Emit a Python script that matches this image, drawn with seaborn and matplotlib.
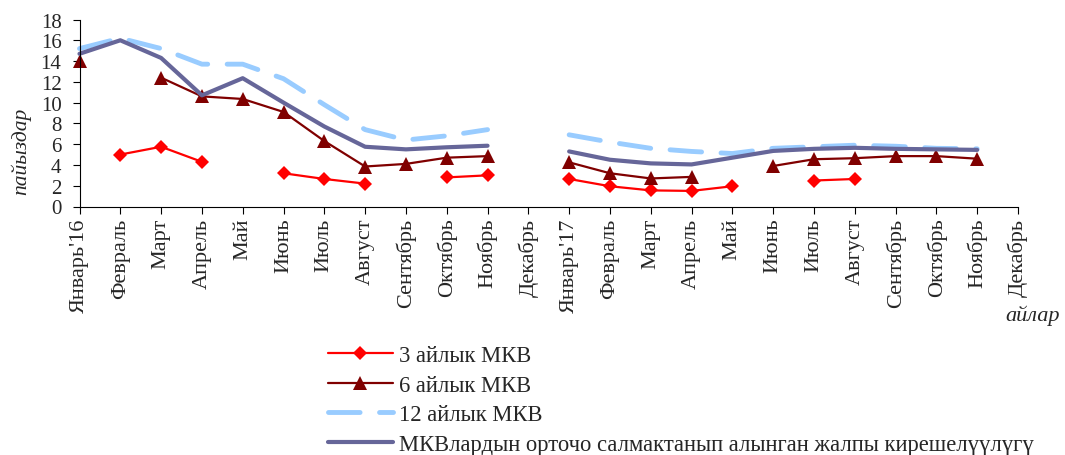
import numpy as np
import pandas as pd
import matplotlib
matplotlib.use("Agg")
import matplotlib.pyplot as plt
from matplotlib.lines import Line2D
import seaborn as sns

nan = np.nan

months = ["Январь'16", "Февраль", "Март", "Апрель", "Май", "Июнь", "Июль",
          "Август", "Сентябрь", "Октябрь", "Ноябрь", "Декабрь",
          "Январь'17", "Февраль", "Март", "Апрель", "Май", "Июнь", "Июль",
          "Август", "Сентябрь", "Октябрь", "Ноябрь", "Декабрь"]

mkv3 = [nan, 5.0, 5.75, 4.3, nan, 3.2, 2.65, 2.2, nan, 2.8, 3.0, nan,
        2.65, 1.95, 1.55, 1.5, 1.95, nan, 2.5, 2.65, nan, nan, nan, nan]
mkv6 = [14.0, nan, 12.4, 10.6, 10.35, 9.1, 6.3, 3.85, 4.1, 4.7, 4.85, nan,
        4.25, 3.2, 2.7, 2.85, nan, 3.9, 4.55, 4.65, 4.85, 4.85, 4.6, nan]
mkv12 = [15.2, 16.2, 15.2, 13.7, 13.7, 12.3, 9.8, 7.4, 6.4, 6.8, 7.4, nan,
         6.9, 6.2, 5.6, 5.3, 5.1, 5.6, 5.75, 5.9, 5.8, 5.6, 5.55, nan]
avg_yield = [14.7, 16.0, 14.3, 10.7, 12.35, 10.0, 7.7, 5.75, 5.5, 5.7, 5.85, nan,
             5.3, 4.5, 4.15, 4.05, 4.7, 5.35, 5.55, 5.65, 5.55, 5.5, 5.45, nan]

series_names = ["3 айлык МКВ", "6 айлык МКВ", "12 айлык МКВ",
                "МКВлардын орточо салмактанып алынган жалпы кирешелүүлүгү"]

styles = {
    series_names[0]: dict(color="#FF0000", linewidth=1.6, marker="D", markersize=7,
                          linestyle="-"),
    series_names[1]: dict(color="#800000", linewidth=1.6, marker="^", markersize=10,
                          linestyle="-"),
    series_names[2]: dict(color="#99CCFF", linewidth=3.5, marker=None, markersize=0,
                          linestyle=(0, (6.5, 4)), dash_capstyle="round"),
    series_names[3]: dict(color="#666699", linewidth=3.0, marker=None, markersize=0,
                          linestyle="-"),
}

pos = np.arange(len(months))
df = pd.DataFrame({"pos": pos})
for name, vals in zip(series_names, [mkv3, mkv6, mkv12, avg_yield]):
    df[name] = vals


def runs(values):
    # consecutive stretches without gaps
    out, cur = [], []
    for i, v in enumerate(values):
        if np.isnan(v):
            if cur:
                out.append(cur)
            cur = []
        else:
            cur.append(i)
    if cur:
        out.append(cur)
    return out


sns.set_theme(style="ticks")
plt.rcParams['font.family'] = ['Liberation Serif', 'DejaVu Serif']

fig = plt.figure(figsize=(10.65, 4.56), dpi=100)
ax = fig.add_axes([79.5 / 1065, 1 - 207.5 / 456, (1018 - 79.5) / 1065, (207.5 - 20.5) / 456])

for name in series_names:
    st = styles[name]
    for seg in runs(df[name].values):
        sub = df.iloc[seg]
        sns.lineplot(data=sub, x="pos", y=name, ax=ax, estimator=None, errorbar=None,
                     sort=False, markeredgewidth=0, clip_on=False, **st)

ax.set_xlim(0, 23)
ax.set_ylim(0, 18)
ax.set_yticks(np.arange(0, 19, 2))
ax.set_xticks(pos)
ax.set_xticklabels(months, rotation=90, fontsize=16)
ax.tick_params(axis="y", labelsize=15, length=5, width=0.8, pad=8, color="black")
ax.tick_params(axis="x", length=5, width=0.8, pad=3, color="black")
ax.set_xlabel("")
ax.set_ylabel("")
sns.despine(ax=ax)
for sp in ["left", "bottom"]:
    ax.spines[sp].set_color("black")
    ax.spines[sp].set_linewidth(0.8)

fig.text(21.5 / 1065, 1 - 151 / 456, "пайыздар", rotation=90, style="italic",
         fontsize=15.5, ha="center", va="center")
fig.text(1060 / 1065, 1 - 316 / 456, "айлар", style="italic",
         fontsize=16, ha="right", va="center")

handles = []
for name in series_names:
    st = styles[name]
    handles.append(Line2D([], [], color=st["color"], linewidth=st["linewidth"],
                          marker=st["marker"], markersize=st["markersize"],
                          markeredgewidth=0, linestyle=st["linestyle"],
                          dash_capstyle="round"))
fig.legend(handles, series_names, loc="upper left",
           bbox_to_anchor=(328 / 1065, 1 - 346 / 456), frameon=False,
           fontsize=16.3, handlelength=2.85, handletextpad=0.3, borderpad=0,
           borderaxespad=0, labelspacing=0.38)

fig.savefig("out.png", dpi=100)
